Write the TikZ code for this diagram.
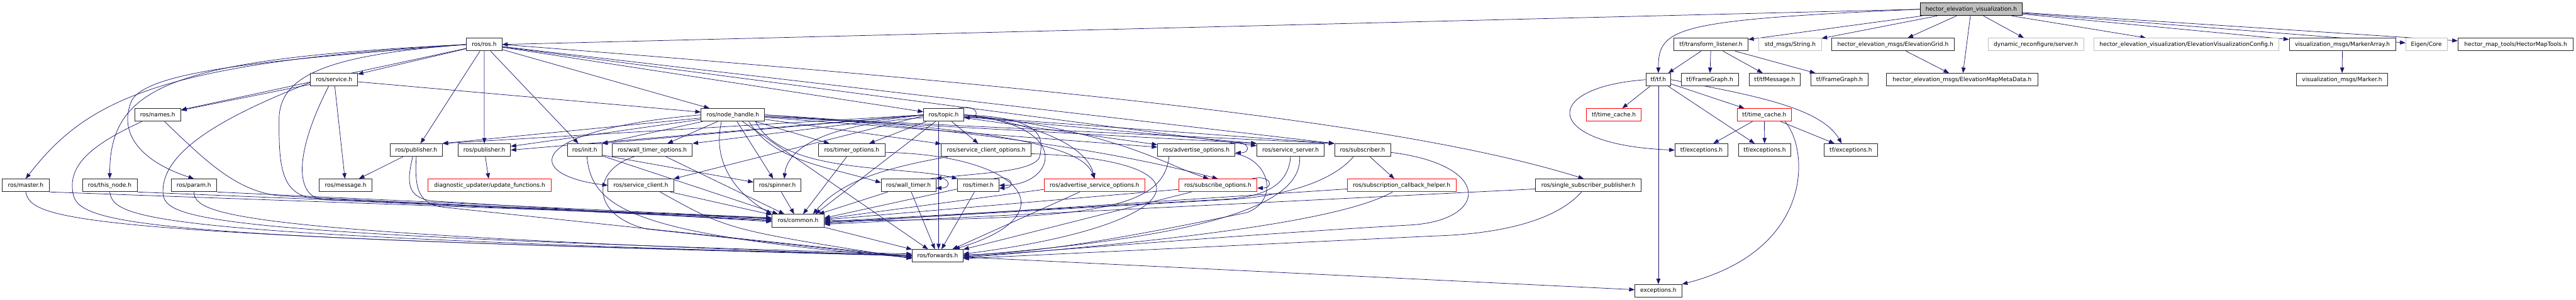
\documentclass[tikz,border=0pt]{standalone}
\usepackage{fontspec}
\setmainfont{DejaVu Sans}
\usetikzlibrary{arrows.meta}
\pgfdeclarelayer{edges}
\pgfsetlayers{edges,main}
\definecolor{mblue}{HTML}{191970}
\definecolor{lgray}{HTML}{BFBFBF}
\newcommand{\selfloopx}[1]{\draw[edg] ([xshift=-12pt]#1.north east) .. controls +(42,-9) and +(38,0) .. ([yshift=-6pt]#1.east);}
\begin{document}
\begin{tikzpicture}[x=1pt, y=-1.0983pt,
  nb/.style={draw=black!85, line width=1.2pt, fill=white, inner sep=0pt, minimum height=28pt, text=black, font=\fontsize{12.5}{15}\selectfont},
  rb/.style={nb, draw=red},
  gb/.style={nb, draw=lgray},
  rootb/.style={nb, fill=lgray, draw=black},
  edg/.style={draw=mblue, line width=1pt, -{Triangle[length=12pt,width=9pt]}}]
\useasboundingbox (0,0) rectangle (5659,600.02);
% ---- nodes
\node[rootb, minimum width=223.9pt] (hev) at (4330.45,18.5) {hector\_elevation\_visualization.h};
% row 1
\node[nb, minimum width=77.7pt] (ros) at (1063.75,89) {ros/ros.h};
\node[nb, minimum width=162.7pt] (tl) at (3758.65,89) {tf/transform\_listener.h};
\node[gb, minimum width=137.4pt] (str) at (3932.5,89) {std\_msgs/String.h};
\node[nb, minimum width=269.5pt] (eg) at (4158.45,89) {hector\_elevation\_msgs/ElevationGrid.h};
\node[gb, minimum width=209.6pt] (dyn) at (4472.6,89) {dynamic\_reconfigure/server.h};
\node[gb, minimum width=406.6pt] (cfg) at (4803.1,89) {hector\_elevation\_visualization/ElevationVisualizationConfig.h};
\node[nb, minimum width=233.7pt] (ma) at (5145.85,89) {visualization\_msgs/MarkerArray.h};
\node[gb, minimum width=90.7pt] (eig) at (5330.35,89) {Eigen/Core};
\node[nb, minimum width=253.5pt] (hmt) at (5526.45,89) {hector\_map\_tools/HectorMapTools.h};
% row 2
\node[nb, minimum width=103pt] (service) at (733.9,159.4) {ros/service.h};
\node[nb, minimum width=54.8pt] (tf) at (3643.1,159.4) {tf/tf.h};
\node[nb, minimum width=125.2pt] (fg1) at (3756,159.4) {tf/FrameGraph.h};
\node[nb, minimum width=111.8pt] (tfm) at (3898.6,159.4) {tf/tfMessage.h};
\node[nb, minimum width=125.1pt] (fg2) at (4041.15,159.4) {tf/FrameGraph.h};
\node[nb, minimum width=333.6pt] (emmd) at (4310.3,159.4) {hector\_elevation\_msgs/ElevationMapMetaData.h};
\node[nb, minimum width=200pt] (mk) at (5145,159.4) {visualization\_msgs/Marker.h};
% row 3
\node[nb, minimum width=101.4pt] (names) at (346.5,229.8) {ros/names.h};
\node[nb, minimum width=139.7pt] (nh) at (1609.95,229.8) {ros/node\_handle.h};
\node[nb, minimum width=88.4pt] (topic) at (2073.1,229.8) {ros/topic.h};
\node[rb, minimum width=120.2pt] (tc1) at (3545.3,229.8) {tf/time\_cache.h};
\node[rb, minimum width=119.8pt] (tc2) at (3875.8,229.8) {tf/time\_cache.h};
% row 4
\node[nb, minimum width=114.4pt] (pub1) at (914.5,300.2) {ros/publisher.h};
\node[nb, minimum width=114.8pt] (pub2) at (1064,300.2) {ros/publisher.h};
\node[nb, minimum width=75.7pt] (init) at (1284.45,300.2) {ros/init.h};
\node[nb, minimum width=176.1pt] (wto) at (1432.95,300.2) {ros/wall\_timer\_options.h};
\node[nb, minimum width=145.4pt] (tmo) at (1871.2,300.2) {ros/timer\_options.h};
\node[nb, minimum width=197.1pt] (sco) at (2166.45,300.2) {ros/service\_client\_options.h};
\node[nb, minimum width=170.3pt] (ao) at (2628.05,300.2) {ros/advertise\_options.h};
\node[nb, minimum width=148.1pt] (ss) at (2835.15,300.2) {ros/service\_server.h};
\node[nb, minimum width=122.8pt] (sub) at (2993.2,300.2) {ros/subscriber.h};
\node[nb, minimum width=116.4pt] (te1) at (3737.8,300.2) {tf/exceptions.h};
\node[nb, minimum width=116pt] (te2) at (3876.6,300.2) {tf/exceptions.h};
\node[nb, minimum width=116.3pt] (te3) at (4065.85,300.2) {tf/exceptions.h};
% row 5
\node[nb, minimum width=103.7pt] (master) at (56.45,370.7) {ros/master.h};
\node[nb, minimum width=120.2pt] (thisnode) at (241.1,370.7) {ros/this\_node.h};
\node[nb, minimum width=100.2pt] (param) at (425.9,370.7) {ros/param.h};
\node[nb, minimum width=115.6pt] (msg) at (759.3,370.7) {ros/message.h};
\node[rb, minimum width=269.9pt] (uf) at (1075.65,370.7) {diagnostic\_updater/update\_functions.h};
\node[nb, minimum width=143.9pt] (sc) at (1407.65,370.7) {ros/service\_client.h};
\node[nb, minimum width=104.1pt] (spin) at (1707.75,370.7) {ros/spinner.h};
\node[nb, minimum width=119.8pt] (wt) at (1995.8,370.7) {ros/wall\_timer.h};
\node[nb, minimum width=90.3pt] (tm) at (2149.05,370.7) {ros/timer.h};
\node[rb, minimum width=222.3pt] (aso) at (2404.55,370.7) {ros/advertise\_service\_options.h};
\node[rb, minimum width=172.2pt] (so) at (2675.3,370.7) {ros/subscribe\_options.h};
\node[rb, minimum width=238.8pt] (sch) at (3079.1,370.7) {ros/subscription\_callback\_helper.h};
\node[nb, minimum width=232.3pt] (ssp) at (3489.25,370.7) {ros/single\_subscriber\_publisher.h};
% rows 6-8
\node[nb, minimum width=114.5pt] (common) at (1753.15,441.4) {ros/common.h};
\node[nb, minimum width=111.7pt] (fwd) at (2059.85,511.7) {ros/forwards.h};
\node[nb, minimum width=103pt] (exc) at (3643.1,581.7) {exceptions.h};

\begin{pgfonlayer}{edges}
\fill[white] (0,0) rectangle (5659,600.02);
% root
\draw[edg] (hev.west) -- (ros.east);
\draw[edg] (hev.west) .. controls (3680,40) and (3643,55) .. (tf.north);
\draw[edg] (hev) -- (tl);
\draw[edg] (hev) -- (str);
\draw[edg] (hev) -- (eg);
\draw[edg] (hev) -- (emmd);
\draw[edg] (hev) -- (dyn);
\draw[edg] (hev) -- (cfg);
\draw[edg] (hev) -- (ma);
\draw[edg] (hev) -- (eig);
\draw[edg] (hev) -- (hmt);
% tf side
\draw[edg] (tl) -- (tf);
\draw[edg] (tl) -- (fg1);
\draw[edg] (tl) -- (tfm);
\draw[edg] (tl) -- (fg2);
\draw[edg] (eg) -- (emmd);
\draw[edg] (ma) -- (mk);
\draw[edg] (tf) -- (tc1);
\draw[edg] (tf) -- (exc);
\draw[edg] (tf) -- (te2);
\draw[edg] (tf) -- (tc2);
\draw[edg] (tf.west) .. controls (3380,175) and (3390,290) .. (te1.west);
\draw[edg] (tf.east) .. controls (3850,190) and (4000,215) .. ([xshift=-20pt]te3.north);
\draw[edg] (tc2) -- (te1);
\draw[edg] (tc2) -- (te2);
\draw[edg] (tc2) -- (te3);
\draw[edg] ([xshift=-15pt]tc2.south east) .. controls (3975,300) and (3985,500) .. (exc.north east);
% ros/ros.h
\draw[edg] (ros) -- (service);
\draw[edg] (ros) -- (pub1);
\draw[edg] (ros) -- (pub2);
\draw[edg] (ros) -- (init);
\draw[edg] (ros) -- (nh);
\draw[edg] (ros) -- (topic);
\draw[edg] (ros) -- (ss);
\draw[edg] (ros) -- (sub.north west);
\draw[edg] (ros.east) .. controls (2400,180) and (3100,250) .. ([xshift=-10pt]ssp.north);
\draw[edg] (ros) -- (names);
\draw[edg] (ros.west) .. controls (350,125) and (190,200) .. (master.north);
\draw[edg] (ros.west) .. controls (380,118) and (241,170) .. (thisnode.north);
\draw[edg] (ros.west) .. controls (600,120) and (330,140) .. (290,200) .. controls (260,260) and (300,320) .. (param.north);
\draw[edg] (ros.west) .. controls (720,110) and (613,150) .. (613,240) .. controls (613,330) and (615,395) .. (700,397) -- ([yshift=4pt]common.west);
% service
\draw[edg] (service) -- (names);
\draw[edg] (service) -- (nh);
\draw[edg] (service) -- (msg);
\draw[edg] ([yshift=-6pt]service.west) .. controls (500,230) and (355,300) .. (358,385) .. controls (360,440) and (450,468) .. ([yshift=4pt]fwd.west);
\draw[edg] ([xshift=-12pt]service.south) .. controls (650,300) and (640,400) .. (720,400) -- ([yshift=2pt]common.west);
% names and left nodes
\draw[edg] ([xshift=15pt]names.south) .. controls (450,320) and (520,385) .. (620,392) -- (common.west);
\draw[edg] ([xshift=-35pt]names.south) .. controls (200,290) and (150,330) .. (160,385) .. controls (170,450) and (300,475) .. ([yshift=2pt]fwd.west);
\draw[edg] (master.south east) -- ([yshift=6pt]common.west);
\draw[edg] (thisnode.south east) -- ([yshift=6pt]common.west);
\draw[edg] (param.south east) -- ([yshift=6pt]common.west);
\draw[edg] (master.south) .. controls (70,440) and (150,470) .. (fwd.west);
\draw[edg] (thisnode.south) .. controls (250,440) and (330,470) .. (fwd.west);
\draw[edg] (param.south) .. controls (430,430) and (500,465) .. (fwd.west);
% publishers
\draw[edg] (pub1) -- (msg);
\draw[edg] ([xshift=-8pt]pub1.south) .. controls (895,360) and (890,395) .. (950,402) -- ([yshift=-2pt]common.west);
\draw[edg] (pub1.south) .. controls (910,380) and (920,410) .. (980,415) -- ([yshift=-2pt]fwd.west);
\draw[edg] (pub2) -- (uf);
% init, wall_timer_options, service_client, spinner
\draw[edg] ([yshift=-11pt]init.east) -- ([yshift=7pt]spin.west);
\draw[edg] (init) -- (common);
\draw[edg] ([xshift=5pt]init.south) .. controls (1300,420) and (1400,470) .. ([yshift=-4pt]fwd.west);
\draw[edg] (wto) -- (common);
\draw[edg] ([xshift=-40pt]wto.south) .. controls (1300,340) and (1295,430) .. (1420,458) -- ([yshift=-4pt]fwd.west);
\draw[edg] (sc) -- (common);
\draw[edg] ([xshift=-30pt]sc.south east) .. controls (1600,460) .. ([yshift=-6pt]fwd.west);
\draw[edg] (spin) -- (common);
% timer options, service client options
\draw[edg] (tmo) -- (common);
\draw[edg] ([yshift=-5pt]tmo.east) .. controls (2250,310) and (2350,430) .. ([xshift=-20pt]fwd.north east);
\draw[edg] ([xshift=15pt]sco.south west) .. controls (1950,335) and (1850,360) .. ([xshift=-25pt]common.north east);
\draw[edg] ([yshift=-8pt]sco.east) .. controls (2680,320) and (2620,450) .. ([yshift=4pt]fwd.east);
% timers
\draw[edg] (wt) -- (common);
\draw[edg] (wt) -- (fwd);
\draw[edg] ([yshift=-8pt]tm.west) -- ([yshift=6pt]common.east);
\draw[edg] (tm) -- (fwd);
\selfloopx{wt}
\selfloopx{tm}
% options
\draw[edg] ([yshift=-9pt]aso.west) -- ([yshift=4pt]common.east);
\draw[edg] (aso) -- (fwd);
\draw[edg] ([yshift=-9pt]so.west) -- ([yshift=2pt]common.east);
\draw[edg] (so) -- (fwd);
\selfloopx{so}
\draw[edg] ([xshift=-60pt]ao.south) .. controls (2555,420) and (2400,440) .. (common.east);
\draw[edg] ([yshift=-8pt]ao.east) .. controls (2790,320) and (2810,400) .. (2740,425) .. controls (2500,470) and (2300,505) .. ([yshift=2pt]fwd.east);
\selfloopx{ao}
% server, subscriber
\draw[edg] (ss.south) .. controls (2830,370) and (2780,392) .. (2700,398) -- ([yshift=-2pt]common.east);
\draw[edg] ([xshift=20pt]ss.south) .. controls (2860,400) and (2700,470) .. (fwd.east);
\draw[edg] (sub) -- (sch);
\draw[edg] ([xshift=-20pt]sub.south) .. controls (2920,370) and (2800,394) .. (2700,399) -- ([yshift=-4pt]common.east);
\draw[edg] ([yshift=-5pt]sub.east) .. controls (3280,330) and (3270,440) .. (3100,450) .. controls (2800,465) and (2400,495) .. ([yshift=-2pt]fwd.east);
\draw[edg] ([yshift=-8pt]sch.west) -- ([yshift=-6pt]common.east);
\draw[edg] ([xshift=-20pt]sch.south) .. controls (2950,440) and (2600,480) .. ([yshift=-4pt]fwd.east);
\draw[edg] ([yshift=-8pt]ssp.west) -- ([yshift=-8pt]common.east);
\draw[edg] ([xshift=-15pt]ssp.south) .. controls (3420,440) and (3300,468) .. (3150,472) -- ([yshift=-6pt]fwd.east);
\draw[edg] (common) -- (fwd);
\draw[edg] (fwd) -- (exc);
% node_handle
\draw[edg] (nh) -- (pub1.north east);
\draw[edg] (nh) -- (pub2);
\draw[edg] (nh) -- (init.north east);
\draw[edg] (nh) -- (wto);
\draw[edg] (nh.west) .. controls (1150,260) and (1150,350) .. (sc.west);
\draw[edg] (nh) -- (spin);
\draw[edg] ([xshift=-25pt]nh.south) .. controls (1560,340) and (1640,400) .. (common.north west);
\draw[edg] (nh) -- (tmo);
\draw[edg] ([xshift=35pt]nh.south) .. controls (1700,320) and (1800,330) .. ([yshift=6pt]wt.west);
\draw[edg] ([xshift=50pt]nh.south) .. controls (1720,350) and (1980,330) .. (tm.north west);
\draw[edg] (nh) -- (sco);
\draw[edg] (nh) -- (ao);
\draw[edg] (nh) -- (ss.north west);
\draw[edg] (nh) -- (sub.north west);
\draw[edg] (nh.east) .. controls (2250,260) and (2380,300) .. (aso.north);
\draw[edg] (nh.east) .. controls (2300,270) and (2560,330) .. (so.north);
\draw[edg] (nh) -- (fwd);
% topic
\selfloopx{topic}
\draw[edg] (topic.west) -- (pub1.north east);
\draw[edg] (topic.west) -- (pub2.east);
\draw[edg] (topic.west) -- (init.north east);
\draw[edg] (topic.west) -- (wto.north east);
\draw[edg] ([yshift=-2pt]topic.west) -- (sc.north east);
\draw[edg] ([yshift=-6pt]topic.west) .. controls (1800,250) and (1730,300) .. ([xshift=15pt]spin.north);
\draw[edg] ([xshift=-18pt]topic.south) -- ([xshift=-20pt]common.north east);
\draw[edg] ([xshift=-11pt]topic.south) -- ([xshift=2pt]fwd.north);
\draw[edg] (topic) -- (tmo);
\draw[edg] (topic) -- (sco);
\draw[edg] (topic.east) .. controls (2300,235) and (2290,280) .. (2285,310) .. controls (2280,345) and (2150,345) .. (wt.north east);
\draw[edg] (topic.east) .. controls (2360,250) and (2320,370) .. (tm.east);
\draw[edg] (topic) -- (ao);
\draw[edg] (topic) -- (ss.north west);
\draw[edg] (topic) -- (sub.north west);
\draw[edg] (topic.east) .. controls (2300,250) and (2390,300) .. (aso.north);
\draw[edg] (topic.east) .. controls (2450,260) and (2560,330) .. ([xshift=-20pt]so.north);
\end{pgfonlayer}
\end{tikzpicture}
\end{document}
